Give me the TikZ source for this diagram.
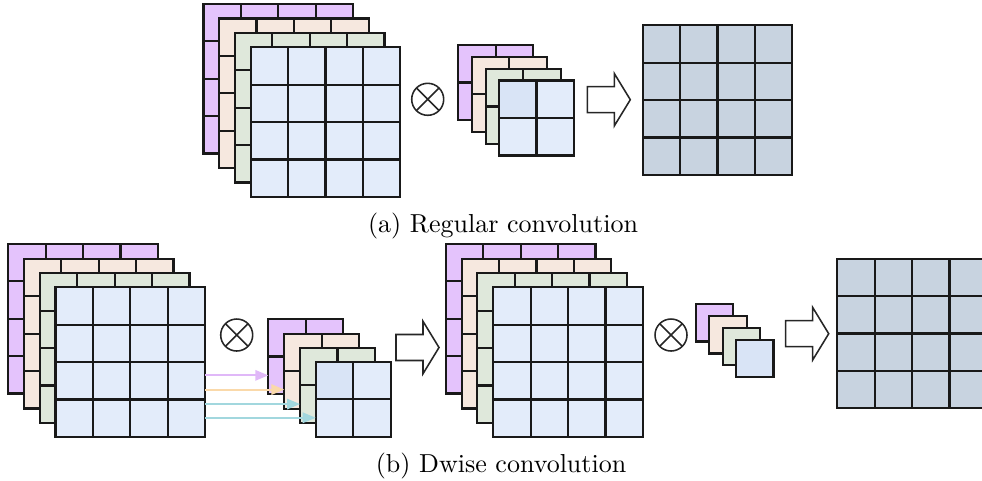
\documentclass[tikz,border=0pt]{standalone}
\usetikzlibrary{calc,arrows.meta}

% layer fills
\definecolor{lyPurple}{HTML}{E4C3FC}
\definecolor{lyPeach}{HTML}{F6E8DF}
\definecolor{lyGreen}{HTML}{DFE8DB}
\definecolor{lyBlue}{HTML}{E3ECFA}
\definecolor{lyBlueDk}{HTML}{D9E4F6}
\definecolor{lyOut}{HTML}{C8D3E0}
% channel feed arrows
\definecolor{arPurple}{HTML}{E0B8F8}
\definecolor{arPeach}{HTML}{FAD9AA}
\definecolor{arTeal}{HTML}{A2D7DE}

\newcommand\unitlen{0.3846pt}

\tikzset{
  layer/.style={draw=black!90, line width=0.85pt, inner sep=0pt, outer sep=0pt, anchor=north west},
  cellline/.style={draw=black!90, line width=0.85pt},
  otimes/.style={circle, draw=black!85, line width=0.6pt, minimum size=32*\unitlen, inner sep=0pt, outer sep=0pt},
  blockarrow/.style={draw=black!85, line width=0.6pt, fill=white, line join=miter},
  feed/.style={line width=0.75pt, -{Triangle[length=5pt,width=4pt]}},
}

% \gridlayer{name}{x}{y}{size}{cells}{fill}: square layer split into cells x cells
\newcommand\gridlayer[6]{%
  \node[layer, fill=#6, minimum size=#4*\unitlen] (#1) at (#2,#3) {};
  \ifnum#5>1
    \pgfmathtruncatemacro\lastcut{#5-1}%
    \foreach \k in {1,...,\lastcut}{%
      \draw[cellline] ($(#1.north west)!\k/#5!(#1.north east)$) -- ($(#1.south west)!\k/#5!(#1.south east)$);
      \draw[cellline] ($(#1.north west)!\k/#5!(#1.south west)$) -- ($(#1.north east)!\k/#5!(#1.south east)$);
    }%
  \fi
}
% \kernellayer: 2x2 blue layer with a shaded first cell
\newcommand\kernellayer[3]{%
  \node[layer, fill=lyBlue, minimum size=75*\unitlen] (#1) at (#2,#3) {};
  \fill[lyBlueDk] ([shift={(0.45pt,-0.45pt)}]#1.north west) rectangle (#1.center);
  \draw[cellline] (#1.north) -- (#1.south) (#1.west) -- (#1.east);
}
% \opcross{name}{x}{y}
\newcommand\opcross[3]{%
  \node[otimes] (#1) at (#2,#3) {};
  \draw[line width=0.6pt, black!85] (#1.north west) -- (#1.south east) (#1.north east) -- (#1.south west);
}
% \bigarrow{x}{y}: hollow block arrow, (x,y) is the middle of its tail
\newcommand\bigarrow[2]{%
  \draw[blockarrow] (#1,#2) ++(0,-13) -- ++(27,0) -- ++(0,-13.2) -- ++(16,26.2)
    -- ++(-16,26.2) -- ++(0,-13.2) -- ++(-27,0) -- cycle;
}

\begin{document}
\begin{tikzpicture}[x=\unitlen, y=-\unitlen]
\useasboundingbox (0,0) rectangle (982,480);
\clip (0,0) rectangle (982,480);

% ---------- (a) regular convolution ----------
\gridlayer{aP}{203.5}{4}{149.5}{4}{lyPurple}
\gridlayer{aE}{219.2}{18.5}{149.5}{4}{lyPeach}
\gridlayer{aG}{235}{33}{149.5}{4}{lyGreen}
\gridlayer{aB}{250.7}{47.3}{149.5}{4}{lyBlue}

\opcross{aX}{427.7}{99.3}

\gridlayer{akP}{458.3}{45}{75}{2}{lyPurple}
\gridlayer{akE}{471.7}{56.7}{75}{2}{lyPeach}
\gridlayer{akG}{485.7}{69}{75}{2}{lyGreen}
\kernellayer{akB}{499}{80.5}

\bigarrow{587.3}{99.7}

\gridlayer{aO}{642.7}{25.3}{149.6}{4}{lyOut}

\node[anchor=base] (capA) at (503,232.5) {(a) Regular convolution};

% ---------- (b) depthwise convolution ----------
\gridlayer{bP}{8.3}{244}{149.5}{4}{lyPurple}
\gridlayer{bE}{24}{259}{149.5}{4}{lyPeach}
\gridlayer{bG}{40}{273.3}{149.5}{4}{lyGreen}
\gridlayer{bB}{55.5}{287.3}{149.5}{4}{lyBlue}

\opcross{bX}{236.7}{335}

\gridlayer{bkP}{268.3}{319}{75}{2}{lyPurple}
\gridlayer{bkE}{284.3}{333.7}{75}{2}{lyPeach}
\gridlayer{bkG}{300}{347.7}{75}{2}{lyGreen}
\kernellayer{bkB}{315.7}{361.7}

\bigarrow{396}{347.5}

\gridlayer{cP}{446}{244}{149.5}{4}{lyPurple}
\gridlayer{cE}{461.7}{259}{149.5}{4}{lyPeach}
\gridlayer{cG}{477.3}{273.3}{149.5}{4}{lyGreen}
\gridlayer{cB}{493.3}{287.3}{149.5}{4}{lyBlue}

\opcross{cX}{671}{335}

\gridlayer{pP}{695.7}{304}{37.5}{1}{lyPurple}
\gridlayer{pE}{709.3}{316}{37.5}{1}{lyPeach}
\gridlayer{pG}{722.7}{327.7}{37.5}{1}{lyGreen}
\gridlayer{pB}{736}{339.7}{37.5}{1}{lyBlueDk}

\bigarrow{785.7}{333.7}

\gridlayer{bO}{837.3}{258.7}{149.5}{4}{lyOut}

% one input channel feeds each kernel slice
\coordinate (f1) at ($(bB.east)+(0,13.3)$);
\coordinate (f2) at ($(bB.east)+(0,27.5)$);
\coordinate (f3) at ($(bB.east)+(0,42)$);
\coordinate (f4) at ($(bB.east)+(0,55.7)$);
\draw[feed, arPurple] (f1) -- (bkP.west |- f1);
\draw[feed, arPeach] (f2) -- (bkE.west |- f2);
\draw[feed, arTeal] (f3) -- (bkG.west |- f3);
\draw[feed, arTeal] (f4) -- (bkB.west |- f4);

\node[anchor=base] (capB) at (501,472.5) {(b) Dwise convolution};
\end{tikzpicture}
\end{document}
